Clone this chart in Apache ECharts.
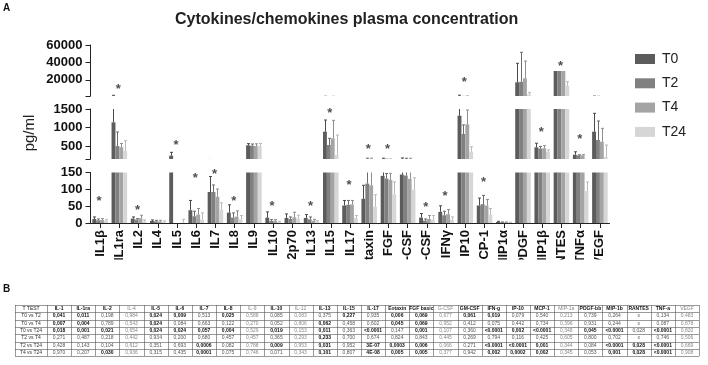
<!DOCTYPE html>
<html><head><meta charset="utf-8">
<script src="https://cdn.jsdelivr.net/npm/echarts@6/dist/echarts.min.js"></script>
<style>html,body{margin:0;padding:0;background:#fff}#c{width:708px;height:365px}</style>
</head><body><div id="c"></div>
<script>
// ---------- chart data ----------
const categories = ['IL1β','IL1ra','IL2','IL4','IL5','IL6','IL7','IL8','IL9','IL10','IL12p70','IL13','IL15','IL17','Eotaxin','FGF','G-CSF','GM-CSF','IFNγ','IP10','MCP-1','MIP1α','PDGF','MIP1β','RANTES','TNFα','VEGF'];
const seriesNames = ['T0','T2','T4','T24'];
const T0    = [12, 1140, 13, 6, 240, 38, 92, 31, 520, 16, 15, 15, 888, 52, 72, 140, 144, 16, 33, 1320, 52, 3, 17200, 465, 30200, 265, 888];
const T0err = [6, 1160, 5, 3, 90, 29, 46, 23, 45, 17, 12, 10, 315, 15, 40, 30, 35, 12, 18, 1080, 22, 2, 21800, 110, 0, 80, 495];
const T2    = [8, 500, 10, 5, 0, 20, 92, 16, 510, 6, 12, 11, 528, 54, 117, 132, 141, 7, 23, 825, 56, 2, 17900, 430, 30200, 248, 663];
const T2err = [4, 380, 3, 3, 0, 15, 21, 14, 45, 4, 6, 7, 180, 13, 55, 15, 30, 5, 12, 245, 26, 1, 33700, 60, 0, 15, 513];
const T4    = [9, 470, 14, 5, 0, 25, 78, 19, 500, 7, 17, 7, 708, 55, 112, 128, 131, 12, 26, 1087, 52, 2, 21800, 440, 30200, 250, 617];
const T4err = [4, 100, 9, 3, 0, 18, 23, 17, 60, 3, 15, 4, 486, 12, 60, 20, 40, 10, 14, 386, 18, 1, 19800, 70, 0, 18, 361];
const T24   = [7, 375, 5, 4, 1, 10, 40, 11, 510, 3, 13, 4, 258, 15, 48, 85, 99, 10, 10, 347, 25, 1, 3450, 350, 13300, 95, 212];
const T24err= [3, 270, 4, 2, 10, 20, 20, 11, 60, 2, 10, 3, 540, 7, 36, 37, 35, 12, 8, 135, 18, 1, 2250, 45, 4600, 27, 316];

// significance asterisks: category, value, axis segment (0 top, 1 middle, 2 bottom)
const starCats = ['IL1β','IL1ra','IL2','IL5','IL6','IL7','IL8','IL10','IL13','IL15','IL17','Eotaxin','FGF','GM-CSF','IFNγ','IP10','MCP-1','MIP1β','RANTES','TNFα'];
const starVals = [73, 13000, 45, 590, 141, 153, 74, 58, 58, 1473, 121, 480, 480, 56, 87, 20000, 129, 952, 39000, 752];
const starSeg  = [2, 0, 2, 1, 2, 2, 2, 2, 2, 1, 2, 1, 1, 2, 2, 0, 2, 1, 0, 1];

// broken y axis segments
const segMin = [1500, 150, 0];
const segMax = [60000, 1500, 150];
const segTicks  = [[1500, 20000, 40000, 60000], [150, 500, 1000, 1500], [0, 50, 100, 150]];
const segLabels = [[20000, 40000, 60000], [500, 1000, 1500], [0, 50, 100, 150]];

// ---------- table data ----------
const tableHeader = ['IL-1','IL-1ra','IL-2','IL-4','IL-5','IL-6','IL-7','IL-8','IL-9','IL-10','IL-12','IL-13','IL-15','IL-17','Eotaxin','FGF basic','G-CSF','GM-CSF','IFN-g','IP-10','MCP-1','MIP-1a','PDGF-bb','MIP-1b','RANTES','TNF-a','VEGF'];
const rowLabels = ['T0 vs T2','T0 vs T4','T0 vs T24','T2 vs T4','T2 vs T24','T4 vs T24'];
const pT0T2  = ['0,041','0,011','0,198','0,984','0,024','0,009','0,513','0,025','0,588','0,085','0,083','0,375','0,227','0,935','0,006','0,069','0,677','0,061','0,019','0,079','0,540','0,213','0,739','0,264','x','0,134','0,483'];
const pT0T4  = ['0,007','0,004','0,789','0,543','0,024','0,084','0,663','0,122','0,270','0,052','0,806','0,062','0,458','0,602','0,045','0,069','0,952','0,412','0,075','0,442','0,734','0,396','0,931','0,244','x','0,087','0,878'];
const pT0T24 = ['0,018','0,001','0,021','0,654','0,024','0,024','0,057','0,004','0,529','0,019','0,153','0,011','0,363','<0.0001','0,147','0,001','0,107','0,360','<0.0001','0,002','<0.0001','0,348','0,045','<0.0001','0,028','<0.0001','0,820'];
const pT2T4  = ['0,271','0,487','0,218','0,442','0,934','0,200','0,680','0,457','0,457','0,365','0,293','0,233','0,700','0,674','0,824','0,843','0,445','0,269','0,794','0,116','0,425','0,605','0,800','0,702','x','0,746','0,506'];
const pT2T24 = ['0,428','0,143','0,104','0,612','0,351','0,693','0,0006','0,082','0,788','0,009','0,953','0,031','0,952','3E-07','0,0003','0,006','0,066','0,271','<0.0001','<0.0001','0,001','0,344','0,084','<0.0001','0,028','<0.0001','0,669'];
const pT4T24 = ['0,970','0,207','0,030','0,936','0,315','0,435','0,0001','0,075','0,746','0,071','0,343','0,101','0,807','4E-08','0,005','0,005','0,377','0,942','0,002','0,0002','0,002','0,345','0,053','0,001','0,028','<0.0001','0,908'];
const boldCols = [
  [0,1,4,5,7,12,14,15,17,18],
  [0,1,4,11,14,15],
  [0,1,2,4,5,6,7,9,11,13,15,18,19,20,22,23,25],
  [11],
  [6,9,11,13,14,15,18,19,20,23,24,25],
  [2,6,11,13,14,15,18,19,20,23,24,25]
];
const lightCols = [3,8,10,16,21,26];

// ---------- styles / layout ----------
const FONT = 'Liberation Sans, Arial, sans-serif';
const barColors = ['#5c5c5c','#808080','#a4a4a4','#d6d6d6'];
const errColors = ['#4a4a4a','#6c6c6c','#8e8e8e','#b8b8b8'];
const CAT_GAP = 0.19;
const gridLeft = 90.5, gridRight = 98.5;
const gridTops = [45, 109, 172.5];
const gridHeights = [51, 50, 50.5];

const values = [T0, T2, T4, T24];
const errors = [T0err, T2err, T4err, T24err];
const pRows = [pT0T2, pT0T4, pT0T24, pT2T4, pT2T24, pT4T24];

const chart = echarts.init(document.getElementById('c'), null, {renderer: 'canvas'});

const grids = [], xAxes = [], yAxes = [], series = [];
for (let g = 0; g < 3; g++) {
  grids.push({left: gridLeft, right: gridRight, top: gridTops[g], height: gridHeights[g], containLabel: false});
  const bottom = g === 2;
  xAxes.push({
    type: 'category', gridIndex: g, data: categories, show: bottom,
    axisLine: {show: bottom, lineStyle: {color: '#222', width: 1}},
    axisTick: {show: bottom, alignWithLabel: true, length: 5, lineStyle: {color: '#222'}},
    axisLabel: {show: bottom, interval: 0, rotate: 90, margin: 7, fontSize: 13, fontWeight: 'bold', color: '#111', fontFamily: FONT},
    splitLine: {show: false}
  });
  yAxes.push({
    type: 'value', gridIndex: g, min: segMin[g], max: segMax[g],
    axisLine: {show: true, lineStyle: {color: '#222', width: 1}},
    axisTick: {show: true, length: 5, lineStyle: {color: '#222'}, customValues: segTicks[g]},
    axisLabel: {fontSize: 13, fontWeight: 'bold', color: '#111', fontFamily: FONT, margin: 8, customValues: segLabels[g],
      formatter: function (v) { return String(v); }},
    splitLine: {show: false}
  });
  for (let k = 0; k < 4; k++) {
    series.push({
      type: 'bar', name: seriesNames[k], xAxisIndex: g, yAxisIndex: g,
      data: values[k], barGap: '0%', barCategoryGap: (CAT_GAP * 100) + '%',
      itemStyle: {color: barColors[k]}, silent: true
    });
  }
  for (let k = 0; k < 4; k++) {
    series.push({
      type: 'custom', xAxisIndex: g, yAxisIndex: g, clip: true, silent: true, z: 3,
      data: categories.map((c, i) => [i, values[k][i], errors[k][i]]),
      renderItem: (function (kk) {
        return function (params, api) {
          const i = api.value(0), v = api.value(1), e = api.value(2);
          if (!(e > 0)) return null;
          const p0 = api.coord([i, v]);
          const p1 = api.coord([i, v + e]);
          const band = api.size([1, 0])[0];
          const gw = band * (1 - CAT_GAP);
          const bw = gw / 4;
          const x = Math.round(p0[0] - gw / 2 + (kk + 0.5) * bw) + 0.5;
          const st = {stroke: errColors[kk], lineWidth: 1};
          return {type: 'group', children: [
            {type: 'line', shape: {x1: x, y1: p0[1], x2: x, y2: p1[1]}, style: st},
            {type: 'line', shape: {x1: x - 1.5, y1: p1[1], x2: x + 1.5, y2: p1[1]}, style: st}
          ]};
        };
      })(k)
    });
  }
  const sd = [];
  starCats.forEach((c, i) => { if (starSeg[i] === g) sd.push([categories.indexOf(c), starVals[i]]); });
  series.push({
    type: 'scatter', xAxisIndex: g, yAxisIndex: g, clip: false, silent: true, z: 4,
    symbol: 'circle', symbolSize: 1, itemStyle: {color: 'rgba(0,0,0,0)'},
    data: sd,
    label: {show: true, position: 'inside', formatter: '*', fontSize: 13, fontWeight: 'bold', color: '#222', fontFamily: FONT, offset: [-1, 3]}
  });
}

// ---------- table graphics ----------
const tLeft = 15, firstW = 32, colW = 24.15, tTop = 305, rowH = 7.3;
const nCols = tableHeader.length, nRows = rowLabels.length + 1;
const tRight = tLeft + firstW + nCols * colW;
const tBottom = tTop + nRows * rowH;
const tg = [];
for (let r = 0; r <= nRows; r++) {
  const y = Math.round(tTop + r * rowH) + 0.5;
  tg.push({type: 'line', shape: {x1: tLeft, y1: y, x2: tRight, y2: y}, style: {stroke: '#555', lineWidth: 0.6}});
}
for (let c = 0; c <= nCols + 1; c++) {
  const x = Math.round(c === 0 ? tLeft : tLeft + firstW + (c - 1) * colW) + 0.5;
  tg.push({type: 'line', shape: {x1: x, y1: tTop, x2: x, y2: tBottom}, style: {stroke: '#555', lineWidth: 0.6}});
}
function cellText(txt, cx, cy, bold, color) {
  tg.push({type: 'text', x: cx, y: cy, style: {text: txt, fontSize: 5, fontWeight: bold ? 'bold' : 'normal', fill: color, fontFamily: FONT, align: 'center', verticalAlign: 'middle'}});
}
cellText('T TEST', tLeft + firstW / 2, tTop + rowH / 2, false, '#222');
tableHeader.forEach((h, j) => {
  const light = lightCols.indexOf(j) >= 0;
  cellText(h, tLeft + firstW + (j + 0.5) * colW, tTop + rowH / 2, !light, light ? '#888' : '#111');
});
rowLabels.forEach((lab, r) => {
  const cy = tTop + (r + 1.5) * rowH;
  cellText(lab, tLeft + firstW / 2, cy, false, '#333');
  pRows[r].forEach((v, j) => {
    const b = boldCols[r].indexOf(j) >= 0;
    const light = lightCols.indexOf(j) >= 0;
    cellText(v, tLeft + firstW + (j + 0.5) * colW, cy, b, b ? '#111' : (light ? '#888' : '#555'));
  });
});

const graphics = [
  {type: 'text', left: 3, top: 3, style: {text: 'A', fontSize: 10, fontWeight: 'bold', fill: '#111', fontFamily: FONT}},
  {type: 'text', left: 3, top: 284, style: {text: 'B', fontSize: 10, fontWeight: 'bold', fill: '#111', fontFamily: FONT}},
  {type: 'text', x: 30, y: 133, rotation: Math.PI / 2, style: {text: 'pg/ml', fontSize: 15, fill: '#222', fontFamily: FONT, align: 'center', verticalAlign: 'middle'}},
  {type: 'rect', z: 100, shape: {x: 88, y: 259.5, width: 530, height: 24}, style: {fill: '#fff'}},
  {type: 'group', z: 101, children: tg}
];

chart.setOption({
  animation: false,
  backgroundColor: '#fff',
  title: {text: 'Cytokines/chemokines plasma concentration', left: 170, top: 7,
    textStyle: {fontSize: 16, fontWeight: 'bold', color: '#222', fontFamily: FONT}},
  legend: {data: seriesNames, orient: 'vertical', left: 630, top: 47, itemWidth: 20, itemHeight: 10, itemGap: 10.3, icon: 'rect',
    textStyle: {fontSize: 14, color: '#222', fontFamily: FONT, padding: [0, 0, 0, 2]}},
  grid: grids, xAxis: xAxes, yAxis: yAxes, series: series, graphic: graphics
});
</script></body></html>
